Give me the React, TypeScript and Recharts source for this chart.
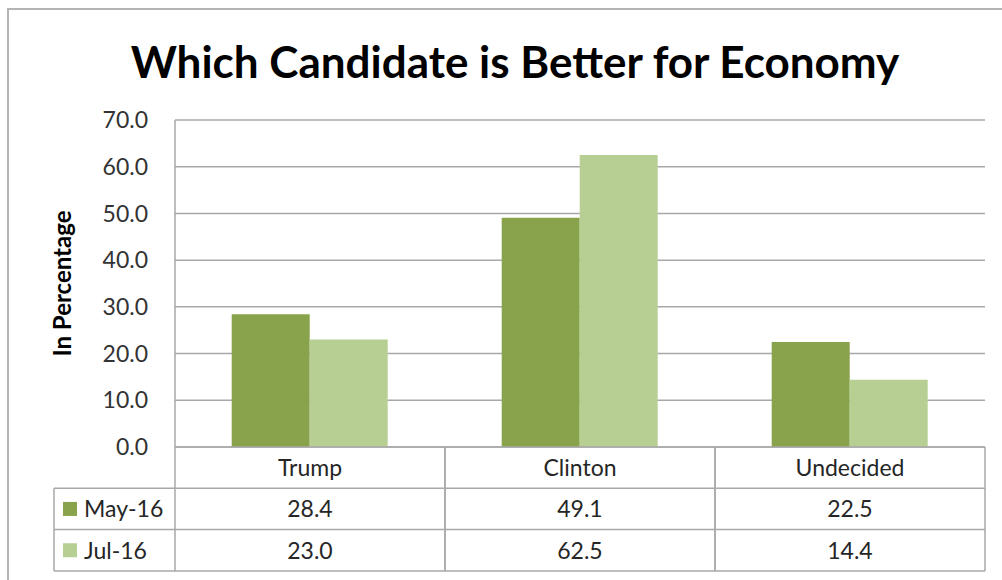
import React from 'react';
import { BarChart, Bar, XAxis, YAxis, CartesianGrid } from 'recharts';

const candidates = ['Trump', 'Clinton', 'Undecided'];
const may16 = [28.4, 49.1, 22.5];
const jul16 = [23.0, 62.5, 14.4];
const seriesNames = ['May-16', 'Jul-16'];
const yTicks = [0, 10, 20, 30, 40, 50, 60, 70];

const DARK = '#88a34c';
const LIGHT = '#b8cf94';
const LINE = '#a8a8a8';
const FONT = 'Lato, "Open Sans", sans-serif';
const TXT = 23;

const data = candidates.map((name, i) => ({ name, may: may16[i], jul: jul16[i] }));
const rows = [may16, jul16];
const swatches = [DARK, LIGHT];

// x-axis ticks double as the data table under the plot
const TableTick = (props: any) => {
  const { x, y, payload } = props;
  const i = payload.index;
  const cellW = 270;
  const rowH = 41.3;
  const left = x - cellW / 2;
  const right = x + cellW / 2;
  const legendLeft = left - 121;
  return (
    <g>
      <line x1={left} y1={y} x2={left} y2={y + rowH * 3} stroke={LINE} strokeWidth={1.5} />
      <line x1={right} y1={y} x2={right} y2={y + rowH * 3} stroke={LINE} strokeWidth={1.5} />
      {[1, 2, 3].map((k) => (
        <line key={k} x1={left} y1={y + rowH * k} x2={right} y2={y + rowH * k} stroke={LINE} strokeWidth={1.5} />
      ))}
      <text x={x} y={y + rowH / 2} dy="0.36em" textAnchor="middle" fontSize={TXT} fill="#262626" fontFamily={FONT}>
        {payload.value}
      </text>
      {rows.map((r, k) => (
        <text key={k} x={x} y={y + rowH * (k + 1.5)} dy="0.36em" textAnchor="middle" fontSize={TXT} fill="#262626" fontFamily={FONT}>
          {r[i].toFixed(1)}
        </text>
      ))}
      {i === 0 && (
        <g>
          <line x1={legendLeft} y1={y + rowH} x2={legendLeft} y2={y + rowH * 3} stroke={LINE} strokeWidth={1.5} />
          {[1, 2, 3].map((k) => (
            <line key={k} x1={legendLeft} y1={y + rowH * k} x2={left} y2={y + rowH * k} stroke={LINE} strokeWidth={1.5} />
          ))}
          {seriesNames.map((s, k) => (
            <g key={s}>
              <rect x={legendLeft + 9} y={y + rowH * (k + 1.5) - 7} width={14} height={14} fill={swatches[k]} />
              <text x={legendLeft + 30} y={y + rowH * (k + 1.5)} dy="0.36em" fontSize={TXT} fill="#262626" fontFamily={FONT}>
                {s}
              </text>
            </g>
          ))}
        </g>
      )}
    </g>
  );
};

const YLabel = (props: any) => {
  const vb = props.viewBox;
  const cx = vb.x + 22;
  const cy = vb.y + vb.height / 2;
  return (
    <text x={cx} y={cy} transform={`rotate(-90 ${cx} ${cy})`} textAnchor="middle" dy="0.36em" fontSize={24} fontWeight="bold" fill="#000" fontFamily={FONT}>
      In Percentage
    </text>
  );
};

export default function App() {
  return (
    <div style={{ position: 'absolute', left: 0, top: 0, width: 1002, height: 580, background: '#fff', overflow: 'hidden' }}>
      <div style={{ position: 'absolute', left: 7, top: 8, width: 1010, height: 590, borderTop: '2px solid #b4b4b4', borderLeft: '2px solid #b4b4b4' }} />
      <div style={{ position: 'absolute', left: 0, width: 1030, top: 31, textAlign: 'center', fontFamily: FONT, fontWeight: 'bold', fontSize: 44, lineHeight: '60px', color: '#000' }}>
        Which Candidate is Better for Economy
      </div>
      <div style={{ position: 'absolute', left: 0, top: 0 }}>
        <BarChart width={1002} height={580} data={data} margin={{ top: 120, right: 17, bottom: 92, left: 40 }} barCategoryGap="21%" barGap={0}>
          <CartesianGrid vertical={false} stroke={LINE} strokeWidth={1.5} />
          <XAxis dataKey="name" height={41} tickLine={false} tickSize={0} tickMargin={0} axisLine={{ stroke: LINE, strokeWidth: 1.5 }} tick={<TableTick />} interval={0} />
          <YAxis
            width={135}
            domain={[0, 70]}
            ticks={yTicks}
            tickFormatter={(v: number) => v.toFixed(1)}
            tickLine={false}
            tickSize={0}
            tickMargin={27}
            axisLine={{ stroke: LINE, strokeWidth: 1.5 }}
            tick={{ fontSize: TXT, fill: '#333', fontFamily: FONT }}
            label={<YLabel />}
          />
          <Bar dataKey="may" name="May-16" fill={DARK} isAnimationActive={false} />
          <Bar dataKey="jul" name="Jul-16" fill={LIGHT} isAnimationActive={false} />
        </BarChart>
      </div>
    </div>
  );
}
